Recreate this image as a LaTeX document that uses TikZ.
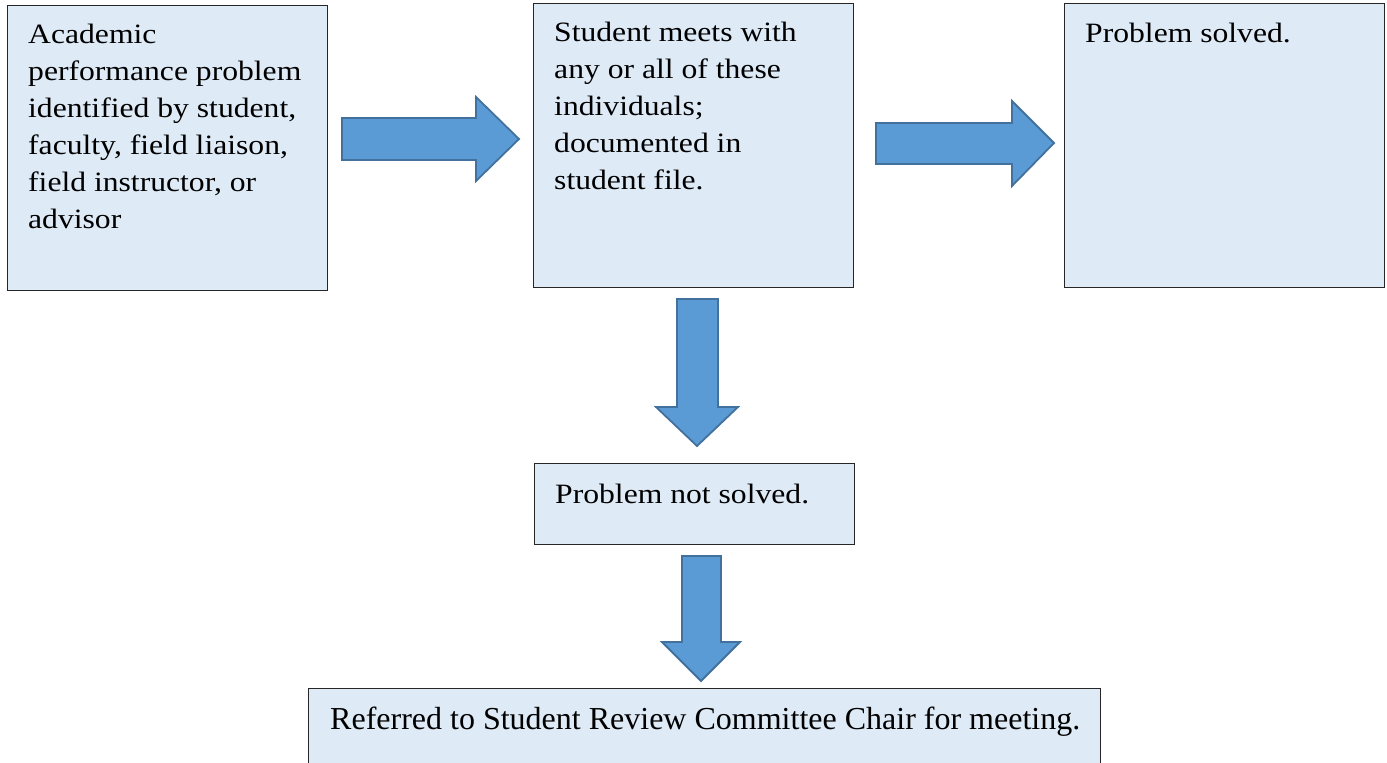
\documentclass[tikz,border=0pt]{standalone}
\usepackage{fontspec}
\setmainfont{Liberation Serif}[FakeStretch=1.13]
\newfontfamily\plainserif{Liberation Serif}
\definecolor{boxfill}{HTML}{DEEAF6}
\definecolor{arrfill}{HTML}{5B9BD5}
\definecolor{arrdraw}{HTML}{41719C}
\begin{document}
\begin{tikzpicture}[x=1pt,y=-1pt,
  box/.style={draw=black!85, line width=1.2pt, fill=boxfill, inner sep=0pt, anchor=north west},
  label/.style={anchor=north west, inner sep=0pt, align=left, font=\fontsize{28}{37}\selectfont},
  blockarrow/.style={draw=arrdraw, fill=arrfill, line width=1.8pt, line join=miter}]
\useasboundingbox (0,0) rectangle (1387,763);
% boxes
\node[box, minimum width=320pt, minimum height=285pt] (a) at (7,5) {};
\node[box, minimum width=320pt, minimum height=284pt] (b) at (533,3) {};
\node[box, minimum width=320pt, minimum height=284pt] (c) at (1064,3) {};
\node[box, minimum width=320pt, minimum height=81pt] (d) at (534,463) {};
\node[box, minimum width=792pt, minimum height=75pt] (e) at (308,688) {};
% texts
\node[label] (ta) at (28,24) {Academic\\performance problem\\identified by student,\\faculty, field liaison,\\field instructor, or\\advisor};
\node[label] (tb) at (554,22) {Student meets with\\any or all of these\\individuals;\\documented in\\student file.};
\node[label, anchor=base west] (tc) at (1085,42) {Problem solved.};
\node[label, anchor=base west] (td) at (555,503) {Problem not solved.};
\node[label, anchor=base west, font=\plainserif\fontsize{32}{37}\selectfont] (te) at (330,729) {Referred to Student Review Committee Chair for meeting.};
% block arrows
\draw[blockarrow] (342,118) -- (476,118) -- (476,97) -- (519,139) -- (476,181) -- (476,160) -- (342,160) -- cycle;
\draw[blockarrow] (876,123) -- (1012,123) -- (1012,101) -- (1054,143) -- (1012,186) -- (1012,164) -- (876,164) -- cycle;
\draw[blockarrow] (677,299) -- (718,299) -- (718,407) -- (738,407) -- (697,446) -- (656,407) -- (677,407) -- cycle;
\draw[blockarrow] (682,556) -- (721,556) -- (721,642) -- (740,642) -- (701,681) -- (662,642) -- (682,642) -- cycle;
\end{tikzpicture}
\end{document}
